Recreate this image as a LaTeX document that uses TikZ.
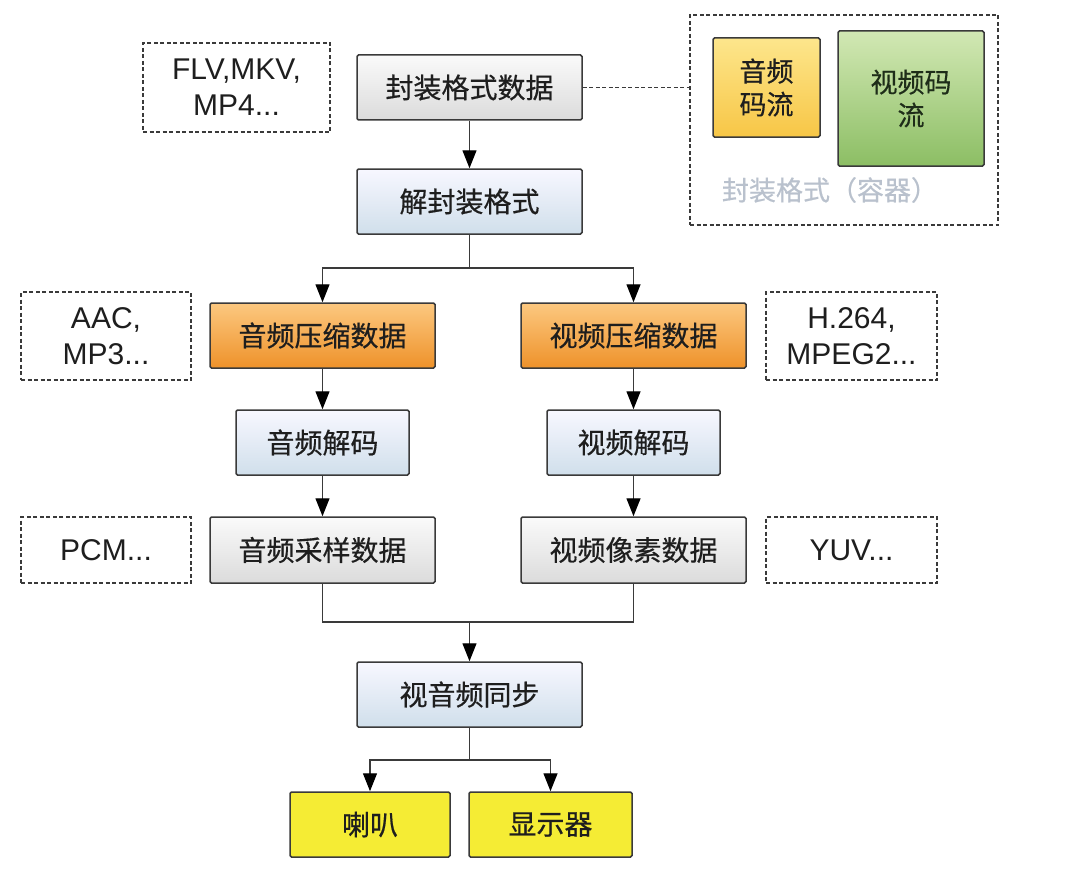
\documentclass[tikz,border=0pt]{standalone}
\usepackage{fontspec}
\setmainfont{Liberation Sans}
\newfontfamily\zh[FakeBold=0.5]{Noto Sans CJK SC}
\usetikzlibrary{arrows.meta}
\definecolor{txt}{HTML}{1E1E1E}
\definecolor{edge}{HTML}{3A3A3A}
\definecolor{lbl}{HTML}{B9C1CD}
\tikzset{
  box/.style={draw=edge, line width=1.5pt, rounded corners=1.5pt, inner sep=0pt,
    text=txt, font=\zh\fontsize{28}{34}\selectfont, align=center},
  graybox/.style={box, top color=gray!4, bottom color=gray!28!white},
  bluebox/.style={box, top color=blue!3!white, bottom color={rgb,255:red,208;green,223;blue,235}},
  orangebox/.style={box, top color={rgb,255:red,252;green,200;blue,128}, bottom color={rgb,255:red,238;green,146;blue,42}},
  yellowbox/.style={box, fill={rgb,255:red,245;green,236;blue,52}},
  noteb/.style={draw=edge, dashed, dash pattern=on 4pt off 2.5pt, line width=1.3pt, inner sep=0pt,
    text=txt, font=\fontsize{30}{36}\selectfont, align=center},
  arr/.style={draw=edge, line width=1.4pt, -{Triangle[length=18pt,width=14pt,color=black]}},
  ln/.style={draw=edge, line width=1.4pt},
}
\begin{document}
\begin{tikzpicture}[x=1pt,y=-1pt]
\useasboundingbox[fill=white] (0,0) rectangle (1070,888);
% container
\node[noteb, minimum width=308pt, minimum height=210pt] (cont) at (844,120) {};
\node[box, font=\zh\fontsize{27}{33}\selectfont, top color={rgb,255:red,253;green,230;blue,140}, bottom color={rgb,255:red,247;green,198;blue,70},
  minimum width=107pt, minimum height=99pt] (astr) at (766.5,87.5) {音频\\码流};
\node[box, font=\zh\fontsize{27}{33}\selectfont, text={rgb,255:red,30;green,45;blue,25}, top color={rgb,255:red,210;green,232;blue,180}, bottom color={rgb,255:red,140;green,190;blue,100},
  minimum width=146pt, minimum height=135pt] (vstr) at (911,98.5) {视频码\\流};
\node[text=lbl, font=\zh\fontsize{27}{33}\selectfont, inner sep=0pt] (clbl) at (830,190) {封装格式（容器）};
% main column
\node[noteb, minimum width=187pt, minimum height=89pt] (flv) at (236.5,87.5) {FLV,MKV,\\MP4...};
\node[graybox, minimum width=225pt, minimum height=65pt] (src) at (469.5,87.5) {封装格式数据};
\node[bluebox, minimum width=225pt, minimum height=65pt] (demux) at (469.5,201.5) {解封装格式};
\node[noteb, minimum width=170pt, minimum height=88pt] (aac) at (106,336) {AAC,\\MP3...};
\node[orangebox, minimum width=225pt, minimum height=65pt] (acomp) at (322.5,335.5) {音频压缩数据};
\node[orangebox, minimum width=225pt, minimum height=65pt] (vcomp) at (633.5,335.5) {视频压缩数据};
\node[noteb, minimum width=171pt, minimum height=88pt] (h264) at (851.5,336) {H.264,\\MPEG2...};
\node[bluebox, minimum width=173pt, minimum height=65pt] (adec) at (322.5,442.5) {音频解码};
\node[bluebox, minimum width=173pt, minimum height=65pt] (vdec) at (633.5,442.5) {视频解码};
\node[noteb, minimum width=170pt, minimum height=66pt] (pcm) at (106,550) {PCM...};
\node[graybox, minimum width=225pt, minimum height=66pt] (asamp) at (322.5,550) {音频采样数据};
\node[graybox, minimum width=225pt, minimum height=66pt] (vpix) at (633.5,550) {视频像素数据};
\node[noteb, minimum width=171pt, minimum height=66pt] (yuv) at (851.5,550) {YUV...};
\node[bluebox, minimum width=225pt, minimum height=65pt] (sync) at (469.5,694.5) {视音频同步};
\node[yellowbox, minimum width=160pt, minimum height=65pt] (spk) at (370,824.5) {喇叭};
\node[yellowbox, minimum width=163pt, minimum height=65pt] (disp) at (550.5,824.5) {显示器};
% junctions
\coordinate (j1) at (469.5,268);
\coordinate (j2) at (469.5,622);
\coordinate (j3) at (469.5,760);
% connectors
\draw[ln, dashed, dash pattern=on 4pt off 2.5pt] (src.east) -- (src.east -| cont.west);
\draw[arr] (src) -- (demux);
\draw[ln] (demux.south) -- (j1);
\draw[arr] (j1) -| (acomp.north);
\draw[arr] (j1) -| (vcomp.north);
\draw[arr] (acomp) -- (adec);
\draw[arr] (vcomp) -- (vdec);
\draw[arr] (adec) -- (asamp);
\draw[arr] (vdec) -- (vpix);
\draw[ln] (asamp.south) |- (j2);
\draw[ln] (vpix.south) |- (j2);
\draw[arr] (j2) -- (sync.north);
\draw[ln] (sync.south) -- (j3);
\draw[arr] (j3) -| (spk.north);
\draw[arr] (j3) -| (disp.north);
\end{tikzpicture}
\end{document}
